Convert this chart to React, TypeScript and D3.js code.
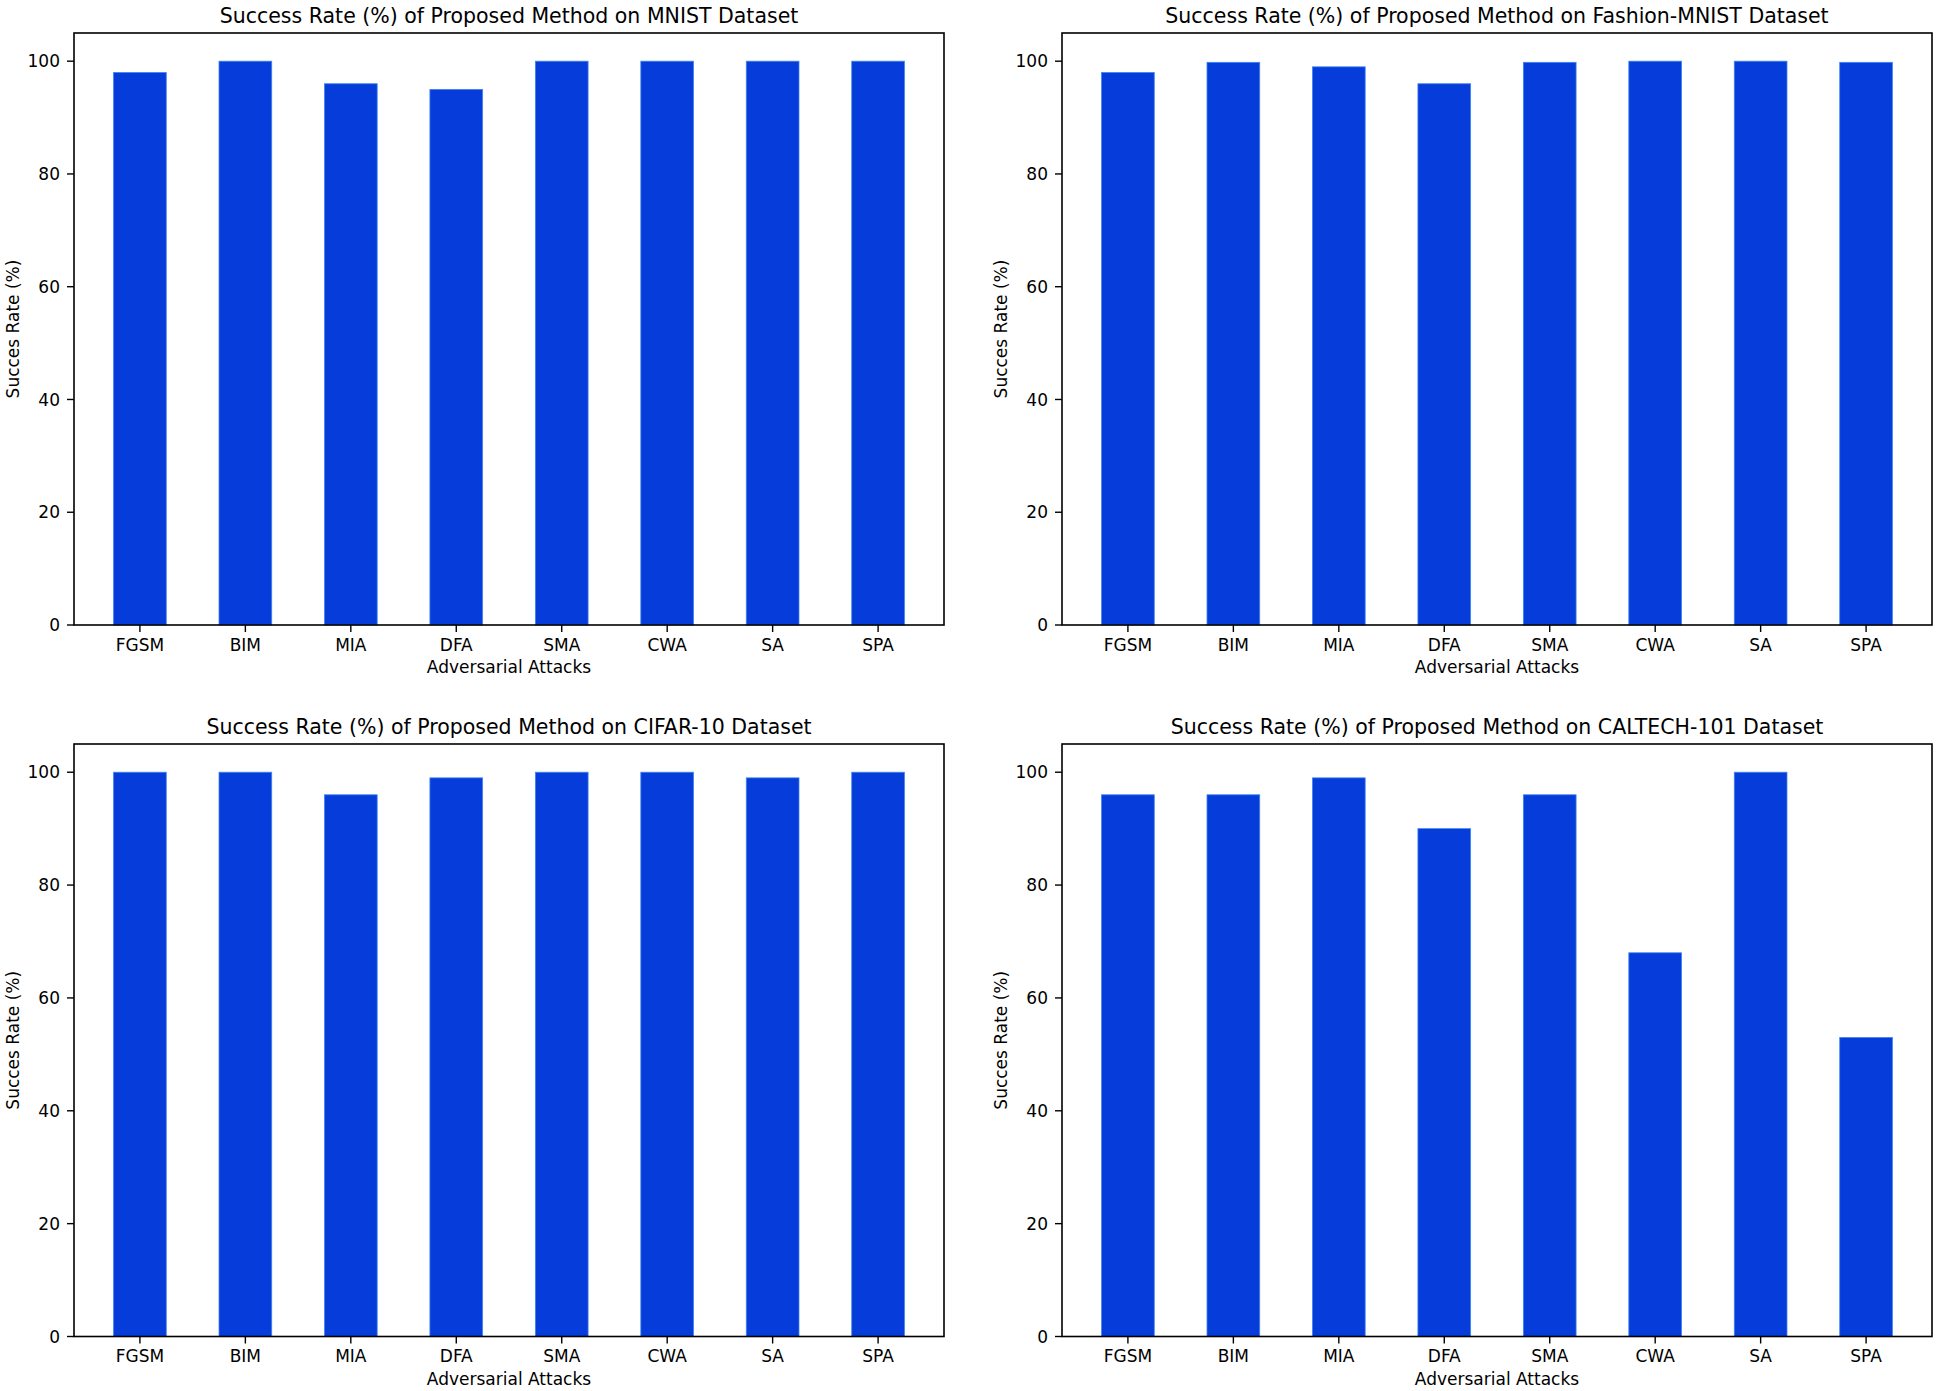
import React from 'react';
import * as d3 from 'd3';

// attack names on the x axis
const attacks = ['FGSM', 'BIM', 'MIA', 'DFA', 'SMA', 'CWA', 'SA', 'SPA'];

// success rate (%) per dataset
const mnistRates = [98, 100, 96, 95, 100, 100, 100, 100];
const fashionRates = [98, 99.8, 99, 96, 99.8, 100, 100, 99.8];
const cifarRates = [100, 100, 96, 99, 100, 100, 99, 100];
const caltechRates = [96, 96, 99, 90, 96, 68, 100, 53];

const datasetNames = ['MNIST', 'Fashion-MNIST', 'CIFAR-10', 'CALTECH-101'];
const yTicks = [0, 20, 40, 60, 80, 100];

const W = 1938;
const H = 1391;
const FONT = '"DejaVu Sans", sans-serif';
const BAR = '#063cd9';

// axes boxes in pixels: [left, right, top, bottom]
const columns = [
  [74, 944],
  [1062, 1932],
];
const rows = [
  [33, 625],
  [744, 1336.5],
];

interface PanelProps {
  title: string;
  values: number[];
  left: number;
  right: number;
  top: number;
  bottom: number;
}

const Panel: React.FC<PanelProps> = ({ title, values, left, right, top, bottom }) => {
  // matplotlib-like limits: bars of width 0.5, 5% margins
  const x = d3.scaleLinear().domain([-0.625, attacks.length - 1 + 0.625]).range([left, right]);
  const y = d3.scaleLinear().domain([0, 105]).range([bottom, top]);
  const barW = x(0.5) - x(0);
  const midX = (left + right) / 2;
  const midY = (top + bottom) / 2;

  return (
    <g>
      <text x={midX} y={top - 10} textAnchor="middle" fontSize={20.5} fontFamily={FONT} fill="#000">
        {title}
      </text>

      {values.map((v, i) => (
        <rect
          key={attacks[i]}
          x={x(i) - barW / 2}
          y={y(v)}
          width={barW}
          height={y(0) - y(v)}
          fill={BAR}
          stroke="#3f86f0"
          strokeWidth={0.8}
        />
      ))}

      {/* y axis ticks */}
      {yTicks.map(t => (
        <g key={t}>
          <line x1={left - 7} x2={left} y1={y(t)} y2={y(t)} stroke="#000" strokeWidth={1.4} />
          <text
            x={left - 14}
            y={y(t)}
            dy="0.36em"
            textAnchor="end"
            fontSize={17}
            fontFamily={FONT}
            fill="#000"
          >
            {t}
          </text>
        </g>
      ))}

      {/* x axis ticks */}
      {attacks.map((a, i) => (
        <g key={a}>
          <line x1={x(i)} x2={x(i)} y1={bottom} y2={bottom + 7} stroke="#000" strokeWidth={1.4} />
          <text x={x(i)} y={bottom + 25.5} textAnchor="middle" fontSize={17} fontFamily={FONT} fill="#000">
            {a}
          </text>
        </g>
      ))}

      <rect x={left} y={top} width={right - left} height={bottom - top} fill="none" stroke="#000" strokeWidth={1.6} />

      <text x={midX} y={bottom + 48} textAnchor="middle" fontSize={17} fontFamily={FONT} fill="#000">
        Adversarial Attacks
      </text>
      <text
        transform={`translate(${left - 55},${midY}) rotate(-90)`}
        textAnchor="middle"
        fontSize={17}
        fontFamily={FONT}
        fill="#000"
      >
        Succes Rate (%)
      </text>
    </g>
  );
};

export default function App() {
  const series = [mnistRates, fashionRates, cifarRates, caltechRates];
  return (
    <div style={{ position: 'absolute', left: 0, top: 0 }}>
      <svg width={W} height={H} style={{ display: 'block', background: '#fff' }}>
        <rect width={W} height={H} fill="#fff" />
        {series.map((vals, k) => {
          const [left, right] = columns[k % 2];
          const [top, bottom] = rows[Math.floor(k / 2)];
          return (
            <Panel
              key={datasetNames[k]}
              title={`Success Rate (%) of Proposed Method on ${datasetNames[k]} Dataset`}
              values={vals}
              left={left}
              right={right}
              top={top}
              bottom={bottom}
            />
          );
        })}
      </svg>
    </div>
  );
}
